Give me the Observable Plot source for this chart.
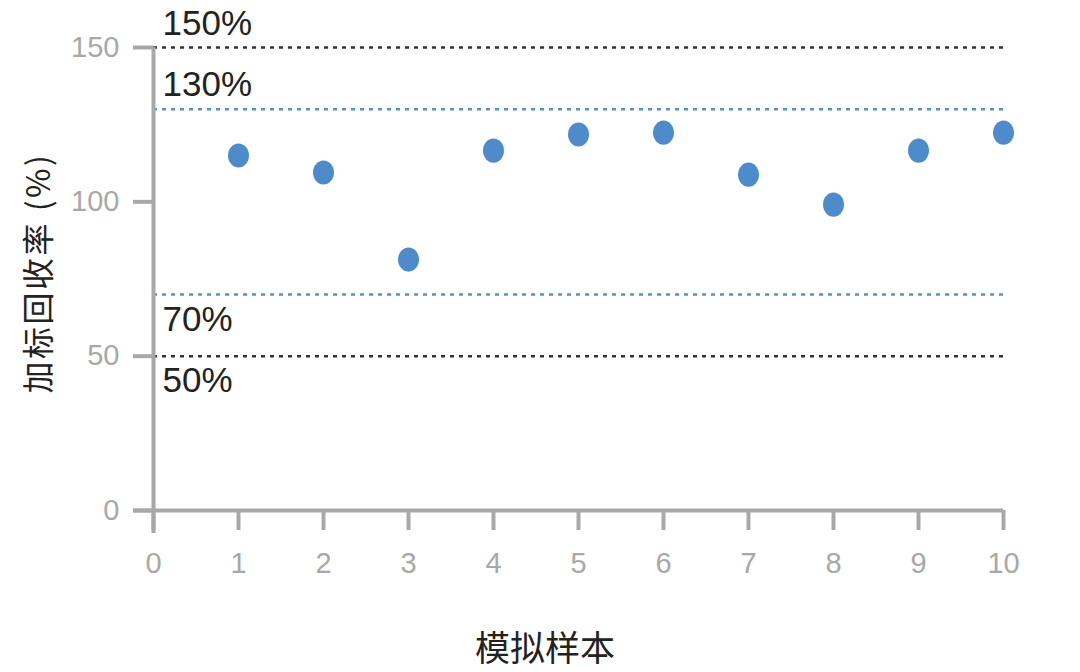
<!DOCTYPE html>
<html>
<head>
<meta charset="utf-8">
<script src="https://cdn.jsdelivr.net/npm/d3@7"></script>
<script src="https://cdn.jsdelivr.net/npm/@observablehq/plot@0.6"></script>
<style>
  html, body { margin: 0; padding: 0; background: #fff; }
  #chart { width: 1080px; height: 672px; position: relative; overflow: hidden; }
  .xtitle { position: absolute; left: 0; width: 1090px; top: 625px; height: 42px; line-height: 42px; text-align: center;
    font-family: "Noto Sans CJK SC", sans-serif; font-size: 35px; color: #222; }
</style>
</head>
<body>
<div id="chart"></div>
<script>
const samples = [1, 2, 3, 4, 5, 6, 7, 8, 9, 10];
const recovery = [115.0, 109.5, 81.3, 116.6, 121.8, 122.4, 108.8, 99.1, 116.6, 122.4];
const limitValues = [150, 130, 70, 50];
const limitLabels = ["150%", "130%", "70%", "50%"];
const limitKinds = ["outer", "inner", "inner", "outer"];
const xTicks = [0, 1, 2, 3, 4, 5, 6, 7, 8, 9, 10];
const yTicks = [0, 50, 100, 150];
const xTitle = "模拟样本";
const yTitle = "加标回收率 (%)";

const points = samples.map((s, i) => ({sample: s, value: recovery[i]}));
const limits = limitValues.map((v, i) => ({value: v, label: limitLabels[i], kind: limitKinds[i]}));

const axisGray = "#a8a8a8";
const font = "'Liberation Sans', Arial, sans-serif";

const plot = Plot.plot({
  width: 1080,
  height: 622,
  marginLeft: 153,
  marginRight: 77,
  marginTop: 47,
  marginBottom: 112,
  style: {fontFamily: font, background: "#fff", overflow: "visible"},
  x: {domain: [0, 10], ticks: xTicks, axis: null},
  y: {domain: [0, 150], ticks: yTicks, axis: null},
  marks: [
    // reference lines
    Plot.ruleY(limits.filter(d => d.kind === "outer"), {y: "value", x1: 0, x2: 10, stroke: "#333", strokeWidth: 2.5, strokeDasharray: "4,5"}),
    Plot.ruleY(limits.filter(d => d.kind === "inner"), {y: "value", x1: 0, x2: 10, stroke: "#5b8fcb", strokeWidth: 2.5, strokeDasharray: "4,5"}),
    Plot.text(limits.filter(d => d.value > 100), {
      x: 0, y: "value", text: "label", textAnchor: "start", lineAnchor: "middle", dx: 9, dy: -24,
      fontSize: 35, fill: "#222", fontFamily: font
    }),
    Plot.text(limits.filter(d => d.value < 100), {
      x: 0, y: "value", text: "label", textAnchor: "start", lineAnchor: "middle", dx: 9, dy: 25,
      fontSize: 35, fill: "#222", fontFamily: font
    }),
    // axes
    Plot.axisY({ticks: yTicks, tickSize: 20, tickPadding: 14, stroke: axisGray, strokeWidth: 4,
      fontSize: 29, fill: axisGray, label: null, fontFamily: font}),
    Plot.axisX({ticks: xTicks, tickSize: 20, tickPadding: 22, stroke: axisGray, strokeWidth: 4,
      fontSize: 29, fill: axisGray, label: null, fontFamily: font}),
    Plot.ruleX([0], {y1: 150, y2: 0, stroke: axisGray, strokeWidth: 4, insetBottom: -23}),
    Plot.ruleY([0], {x1: 0, x2: 10, stroke: axisGray, strokeWidth: 4, insetLeft: -20}),
    // points
    Plot.dot(points, {x: "sample", y: "value", r: 10.5, fill: "#4d8bcb", stroke: "none"}),
    // y title
    Plot.text([yTitle], {
      frameAnchor: "left", textAnchor: "middle", dx: -114, dy: -6, rotate: -90, text: d => d,
      fontSize: 32, fill: "#222", fontFamily: "'Noto Sans CJK SC', sans-serif"
    })
  ]
});

// markers in the reference are slightly taller than wide
d3.select(plot).selectAll("circle").each(function() {
  const c = d3.select(this);
  const cx = +c.attr("cx"), cy = +c.attr("cy");
  if (!isNaN(cx) && !isNaN(cy)) {
    c.attr("transform", `translate(${cx},${cy}) scale(1,1.15) translate(${-cx},${-cy})`);
  }
});
d3.select(plot).selectAll("text").filter(function() { return this.textContent === yTitle; })
  .style("letter-spacing", "2.5px");

const chart = document.getElementById("chart");
chart.appendChild(plot);
const t = document.createElement("div");
t.className = "xtitle";
t.textContent = xTitle;
chart.appendChild(t);
</script>
</body>
</html>
